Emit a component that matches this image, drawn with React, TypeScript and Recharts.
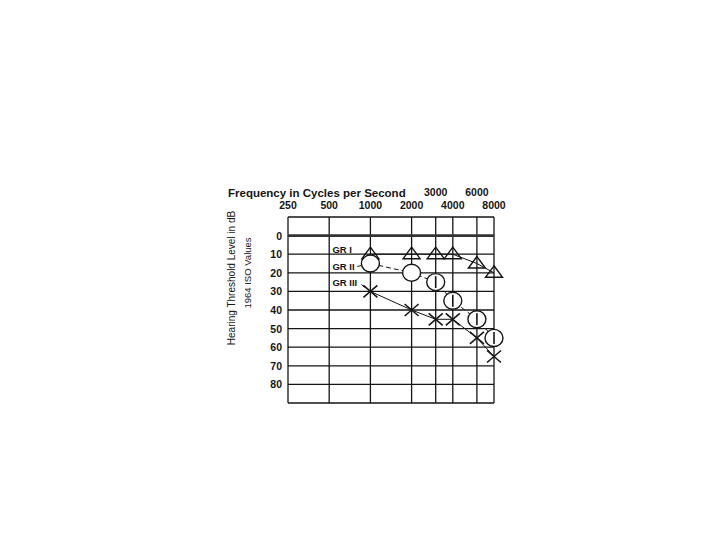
import React from 'react';
import { LineChart, Line, XAxis, YAxis, CartesianGrid, ReferenceLine } from 'recharts';

const frequencies = [1000, 2000, 3000, 4000, 6000, 8000];
const gr1 = [10, 10, 10, 10, 15, 20];
const gr2 = [15, 20, 25, 35, 45, 55];
const gr3 = [30, 40, 45, 45, 55, 65];
const seriesNames = ['GR I', 'GR II', 'GR III'];
const xTicks = [250, 500, 1000, 2000, 3000, 4000, 6000, 8000];
const upperRowTicks = [3000, 6000];
const yTicks = [-10, 0, 10, 20, 30, 40, 50, 60, 70, 80, 90];
const yLabelTicks = [0, 10, 20, 30, 40, 50, 60, 70, 80];
const titleText = 'Frequency in Cycles per Second';
const yTitle1 = 'Hearing Threshold Level in dB';
const yTitle2 = '1964 ISO Values';

const data = frequencies.map((f, i) => ({ freq: f, gr1: gr1[i], gr2: gr2[i], gr3: gr3[i] }));

const INK = '#151515';
const FONT = '"Liberation Sans", Arial, sans-serif';

const XTick = (props: any) => {
  const { x, y, payload } = props;
  const upper = upperRowTicks.includes(payload.value);
  return (
    <text x={x} y={upper ? y - 21 : y - 8} textAnchor="middle" fontFamily={FONT} fontSize={10.5} fontWeight="bold" fill={INK}>
      {payload.value}
    </text>
  );
};

const YTick = (props: any) => {
  const { x, y, payload } = props;
  if (!yLabelTicks.includes(payload.value)) return <g />;
  return (
    <text x={x - 1} y={y + 4} textAnchor="end" fontFamily={FONT} fontSize={10.5} fontWeight="bold" fill={INK}>
      {payload.value}
    </text>
  );
};

const SeriesLabel = ({ cx, cy, name, dy }: any) => (
  <text x={cx - 38} y={cy + dy} fontFamily={FONT} fontSize={9.5} fontWeight="bold" fill={INK}>
    {name}
  </text>
);

const TriangleDot = (props: any) => {
  const { cx, cy, index } = props;
  if (cx == null || cy == null) return <g />;
  return (
    <g>
      {index === 0 && <SeriesLabel cx={cx} cy={cy} name={seriesNames[0]} dy={-1} />}
      <polygon
        points={`${cx},${cy - 7} ${cx - 8.5},${cy + 4.5} ${cx + 8.5},${cy + 4.5}`}
        fill="none"
        stroke={INK}
        strokeWidth={1.4}
      />
    </g>
  );
};

const CircleDot = (props: any) => {
  const { cx, cy, index } = props;
  if (cx == null || cy == null) return <g />;
  return (
    <g>
      {index === 0 && (
        <>
          <SeriesLabel cx={cx} cy={cy} name={seriesNames[1]} dy={6} />
          <line x1={cx - 13} y1={cy + 3} x2={cx - 9} y2={cy + 2} stroke={INK} strokeWidth={1} />
        </>
      )}
      <ellipse cx={cx} cy={cy} rx={9} ry={8.5} fill="#fff" stroke={INK} strokeWidth={1.4} />
      {index >= 2 && <line x1={cx} y1={cy - 6} x2={cx} y2={cy + 6} stroke={INK} strokeWidth={1.6} />}
    </g>
  );
};

const CrossDot = (props: any) => {
  const { cx, cy, index } = props;
  if (cx == null || cy == null) return <g />;
  return (
    <g>
      {index === 0 && (
        <>
          <SeriesLabel cx={cx} cy={cy} name={seriesNames[2]} dy={-5} />
          <line x1={cx - 9} y1={cy - 7} x2={cx - 6} y2={cy - 4} stroke={INK} strokeWidth={1} />
        </>
      )}
      <line x1={cx - 7} y1={cy - 6} x2={cx + 7} y2={cy + 6} stroke={INK} strokeWidth={1.6} />
      <line x1={cx - 7} y1={cy + 6} x2={cx + 7} y2={cy - 6} stroke={INK} strokeWidth={1.6} />
    </g>
  );
};

export default function App() {
  return (
    <div style={{ position: 'absolute', left: 0, top: 0, width: 720, height: 540, background: '#fff' }}>
      <LineChart
        width={720}
        height={540}
        data={data}
        margin={{ top: 187, right: 226, bottom: 137, left: 0 }}
      >
        <CartesianGrid stroke={INK} strokeWidth={1.3} />
        <XAxis
          dataKey="freq"
          type="number"
          scale="log"
          domain={[250, 8000]}
          ticks={xTicks}
          orientation="top"
          height={30}
          axisLine={false}
          tickLine={false}
          tickSize={0}
          tickMargin={0}
          tick={<XTick />}
          interval={0}
        />
        <YAxis
          type="number"
          domain={[-10, 90]}
          ticks={yTicks}
          reversed
          width={288}
          axisLine={false}
          tickLine={false}
          tickSize={0}
          tickMargin={5}
          tick={<YTick />}
          interval={0}
        />
        <ReferenceLine y={0} stroke="#333" strokeWidth={2.6} />
        <Line dataKey="gr1" stroke={INK} strokeWidth={1} isAnimationActive={false} dot={<TriangleDot />} activeDot={false} />
        <Line dataKey="gr3" stroke={INK} strokeWidth={1} isAnimationActive={false} dot={<CrossDot />} activeDot={false} />
        <Line dataKey="gr2" stroke={INK} strokeWidth={1} strokeDasharray="5 3" isAnimationActive={false} dot={<CircleDot />} activeDot={false} />
      </LineChart>
      <svg width={720} height={540} style={{ position: 'absolute', left: 0, top: 0, pointerEvents: 'none' }}>
        <text x={228} y={197} fontFamily={FONT} fontSize={11.5} fontWeight="bold" fill={INK}>
          {titleText}
        </text>
        <text
          x={231}
          y={278}
          transform="rotate(-90 231 278)"
          textAnchor="middle"
          dominantBaseline="central"
          fontFamily={FONT}
          fontSize={10}
          fill={INK}
        >
          {yTitle1}
        </text>
        <text
          x={247}
          y={273}
          transform="rotate(-90 247 273)"
          textAnchor="middle"
          dominantBaseline="central"
          fontFamily={FONT}
          fontSize={9.5}
          fill={INK}
        >
          {yTitle2}
        </text>
      </svg>
    </div>
  );
}
